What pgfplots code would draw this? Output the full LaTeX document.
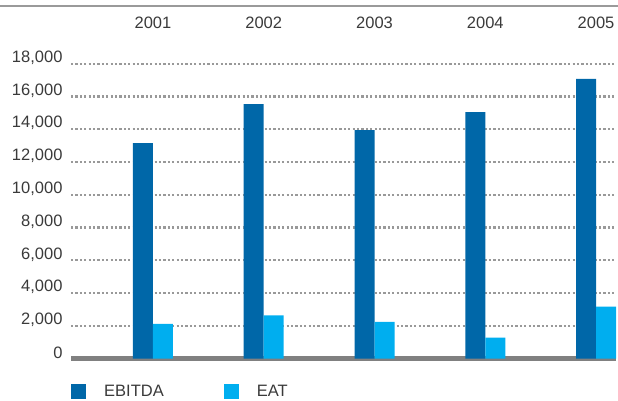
\documentclass[border=0pt]{standalone}
\usepackage{fontspec}
\setmainfont{Liberation Sans}
\usepackage{pgfplots}
\pgfplotsset{compat=1.18}
\definecolor{dblue}{HTML}{0067A8}
\definecolor{lblue}{HTML}{00AEEF}
\definecolor{gridgray}{HTML}{999999}
\definecolor{axgray}{HTML}{808080}
\definecolor{txt}{HTML}{3A3A3A}
\begin{document}
\begin{tikzpicture}[x=1pt,y=1pt]
\path[use as bounding box] (0,0) rectangle (618,401);
\draw[axgray!80, line width=1.6pt] (0,395) -- (618,395);
\begin{axis}[
  at={(71pt,42.3pt)}, anchor=south west,
  scale only axis, width=545pt, height=295pt,
  xmin=-0.74, xmax=4.18, ymin=0, ymax=18000,
  axis line style={draw=none}, tick style={draw=none},
  ybar=0pt, bar width=20pt,
  xtick={0,1,2,3,4}, xticklabels={2001,2002,2003,2004,2005},
  xticklabel pos=upper,
  xticklabel style={font=\fontsize{16.5}{16.5}\selectfont, text=txt, yshift=27pt},
  ytick={2000,4000,...,18000},
  scaled y ticks=false,
  extra y ticks={0},
  extra y tick style={grid style={axgray, solid, line width=4.5pt}},
  ymajorgrids,
  grid style={gridgray, line width=2.2pt, dash pattern=on 2.2pt off 2.2pt},
  yticklabel style={font=\fontsize{16.5}{16.5}\selectfont, text=txt, xshift=-5pt, yshift=6pt},
  /pgf/number format/.cd, 1000 sep={,}, assume math mode=true,
  /pgfplots/.cd,
  legend columns=2,
  legend style={at={(0,-0.14)}, anchor=south west, draw=none, fill=none,
    inner sep=0pt, font=\fontsize{16.5}{16.5}\selectfont, text=txt,
    /tikz/every odd column/.append style={column sep=16pt},
    /tikz/every even column/.append style={column sep=58pt}},
  legend image code/.code={\fill[#1] (0pt,-7.5pt) rectangle (15pt,7.5pt);},
]
\addplot[fill=dblue, draw=none] coordinates {(0,13160) (1,15540) (2,13950) (3,15050) (4,17070)};
\addplot[fill=lblue, draw=none] coordinates {(0,2120) (1,2640) (2,2240) (3,1280) (4,3170)};
\legend{EBITDA, EAT}
\end{axis}
\end{tikzpicture}
\end{document}
